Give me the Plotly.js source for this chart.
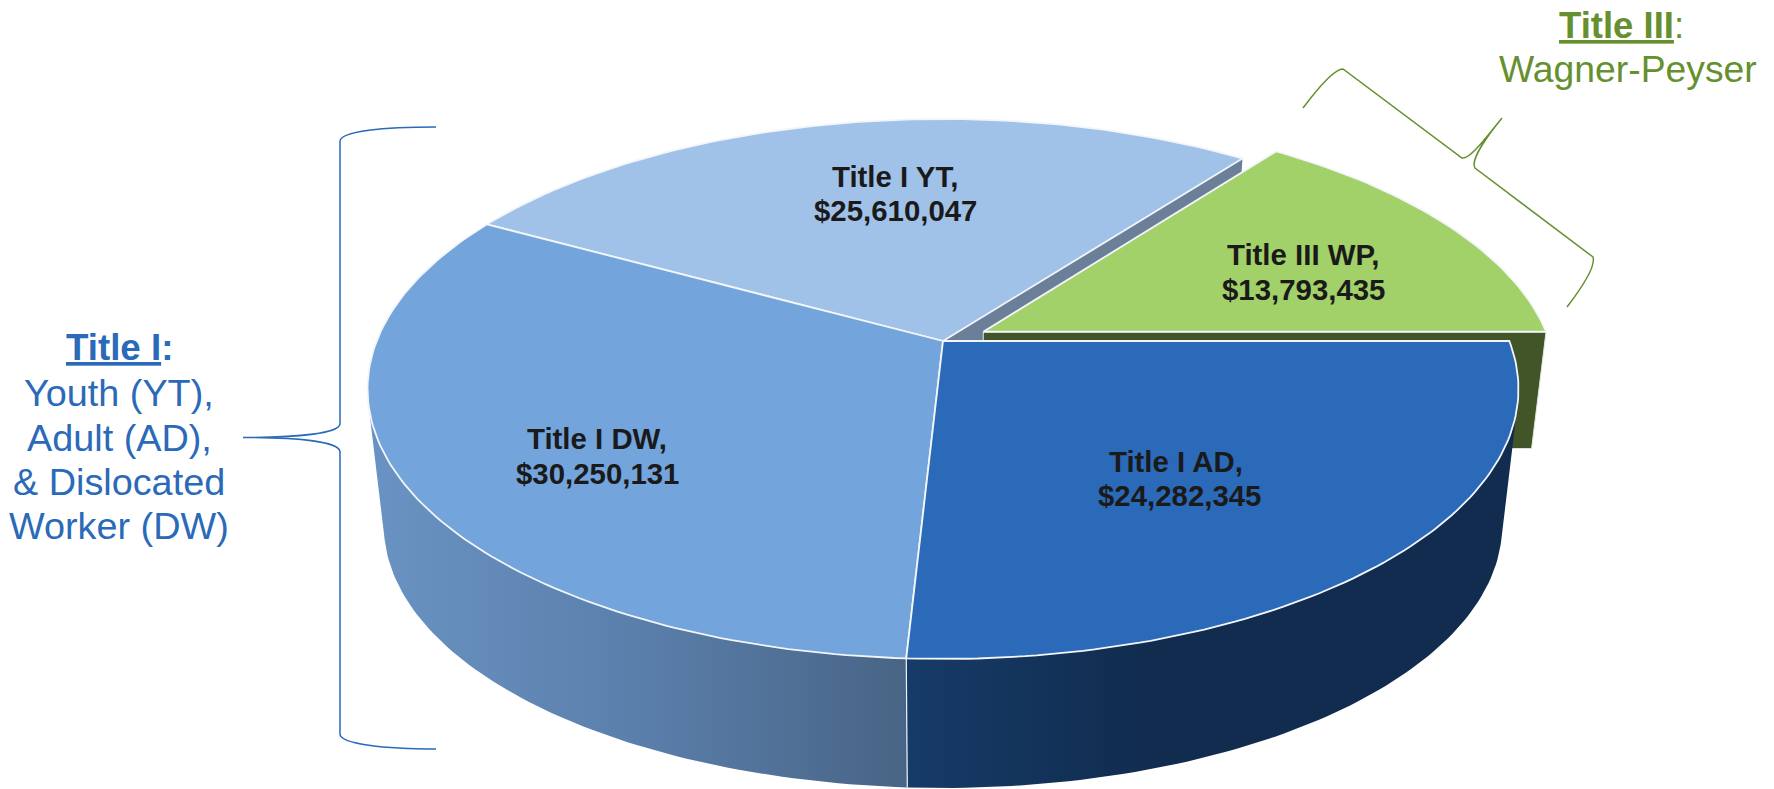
<!DOCTYPE html>
<html>
<head>
<meta charset="utf-8">
<script src="https://cdn.plot.ly/plotly-3.0.1.min.js"></script>
<style>html,body{margin:0;padding:0;background:#fff;overflow:hidden}#chart{width:1774px;height:789px}</style>
</head>
<body>
<div id="chart"></div>
<script>
// ---- data ----
const categories = ['Title I AD', 'Title I DW', 'Title I YT', 'Title III WP'];
const amounts = [24282345, 30250131, 25610047, 13793435];
const titleOneHeading = 'Title I';
const titleOneLines = ['Youth (YT),', 'Adult (AD),', '&amp; Dislocated', 'Worker (DW)'];
const titleThreeHeading = 'Title III';
const titleThreeLine = 'Wagner-Peyser';

// ---- colours ----
const topColors = ['#2A6AB8', '#73A4DC', '#A1C2E8', '#A2D069'];
const blue = '#2A6AB8', green = '#66902F', ink = '#1A1A1A';
const FONT = '"Liberation Sans", Arial, sans-serif';

// ---- pie projection: a unit disc seen in perspective, in pixel-valued axes ----
const CX = 943, CY = 341, A = 566.3, P = 200.8, K = 0.1778;
const VX = 943, VY = 5200, WALL = 0.9716, WEDGE_WALL = 0.976;
const EXPLODE = 0.08;
const project = (u, v) => { const d = 1 - K * v; return [CX + A * u / d, (CY + P * v) / d]; };
const drop = (p, s) => [VX + s * (p[0] - VX), VY + s * (p[1] - VY)];
const rad = d => d * Math.PI / 180;

const total = amounts.reduce((a, b) => a + b, 0);
const angles = [0];
amounts.forEach(v => angles.push(angles[angles.length - 1] + v / total * 360));

function rim(d, off) { return project(Math.cos(rad(d)) + off[0], Math.sin(rad(d)) + off[1]); }
function arc(a, b, off) {
  const n = Math.max(2, Math.ceil(Math.abs(b - a)));
  const out = [];
  for (let i = 0; i <= n; i++) out.push(rim(a + (b - a) * i / n, off));
  return out;
}
function tangent(a, b) {
  let best = a, bestV = -1;
  for (let d = Math.min(a, b); d <= Math.max(a, b); d += 0.25) {
    const p = rim(d, [0, 0]);
    const q = Math.abs(p[0] - VX) / (VY - p[1]);
    if (q > bestV) { bestV = q; best = d; }
  }
  return best;
}
function poly(pts, name, extra) {
  const xs = pts.map(p => p[0]).concat([pts[0][0]]);
  const ys = pts.map(p => p[1]).concat([pts[0][1]]);
  return Object.assign({
    type: 'scatter', mode: 'lines', x: xs, y: ys, fill: 'toself', name: name,
    hoverinfo: 'skip', showlegend: false
  }, extra);
}
const edge = {color: '#F2F5F9', width: 1.8};
const noEdge = {color: 'rgba(0,0,0,0)', width: 0};
const centre = [0, 0];

function face(i, off) {
  const a = arc(angles[i], angles[i + 1], off);
  return poly([project(off[0], off[1])].concat(a), categories[i],
    {fillcolor: topColors[i], line: edge});
}
function gradient(pts, stops) {
  const xs = pts.map(p => p[0]);
  return {
    line: noEdge,
    fillgradient: {type: 'horizontal', colorscale: stops,
      start: Math.min.apply(null, xs), stop: Math.max.apply(null, xs)}
  };
}

// walls
const seam = angles[1];
const dwTan = tangent(seam, angles[2]);
const adTan = tangent(angles[0], seam);
const dwTop = arc(seam, dwTan, centre);
const dwWall = dwTop.concat(dwTop.slice().reverse().map(p => drop(p, WALL)));
const adTop = arc(adTan, seam, centre);
const adWall = adTop.concat(adTop.slice().reverse().map(p => drop(p, WALL)));

// exploded wedge
const midWp = rad((angles[3] + angles[4]) / 2);
const wpOff = [EXPLODE * Math.cos(midWp), EXPLODE * Math.sin(midWp)];
const wpApex = project(wpOff[0], wpOff[1]);
const wpEnd = rim(angles[4], wpOff);
const wpWall = [wpApex, wpEnd, drop(wpEnd, WEDGE_WALL), drop(wpApex, WEDGE_WALL)];

// cut face of the YT slice, seen through the gap
const ytEnd = rim(angles[3], centre);
const ctr = project(0, 0);
const ytCut = [ctr, ytEnd, drop(ytEnd, WALL), drop(ctr, WALL)];

const seamTop = rim(seam, centre);
const data = [
  poly(ytCut, 'Title I YT cut face', {fillcolor: '#6B7F99', line: noEdge}),
  poly(wpWall, 'Title III WP cut face', {fillcolor: '#415529', line: {color: '#E4E8DF', width: 1}}),
  face(3, wpOff),
  poly(dwWall, 'Title I DW side', gradient(dwWall, [[0, '#6A93C3'], [0.5, '#5A7FAB'], [1, '#486485']])),
  poly(adWall, 'Title I AD side', gradient(adWall, [[0, '#163B68'], [0.4, '#112C4E'], [1, '#112C4E']])),
  face(2, centre),
  face(1, centre),
  face(0, centre),
  {type: 'scatter', mode: 'lines', name: 'seam', x: [seamTop[0], drop(seamTop, WALL)[0]],
   y: [seamTop[1], drop(seamTop, WALL)[1]], line: {color: '#EEF3F8', width: 1.2},
   hoverinfo: 'skip', showlegend: false}
];

// ---- text ----
const money = v => '$' + v.toLocaleString('en-US');
const BASE = 0.34;
function label(text, x, baseline, size, color) {
  return {text: text, x: x, y: baseline - BASE * size, xref: 'x', yref: 'y', showarrow: false,
    xanchor: 'center', yanchor: 'middle', font: {family: FONT, size: size, color: color}};
}
const labelAt = [[1176, 471, 505, 1179], [597, 448, 483, 597], [895, 186, 220, 895], [1303, 264, 299, 1303]];
const annotations = [];
categories.forEach((c, i) => {
  const at = labelAt[i];
  annotations.push(label('<b>' + c + ',</b>', at[0], at[1], 29.4, ink));
  annotations.push(label('<b>' + money(amounts[i]) + '</b>', at[3], at[2], 29.4, ink));
});
annotations.push(label('<b><u>' + titleOneHeading + '</u>:</b>', 119, 360, 36.7, blue));
titleOneLines.forEach((t, i) => annotations.push(label(t, 119, [406, 451, 495, 539][i], 37.8, blue)));
annotations.push(label('<b><u>' + titleThreeHeading + '</u></b>:', 1621, 38, 36.5, green));
annotations.push(label(titleThreeLine, 1628, 82, 37.3, green));

// ---- braces ----
const shapes = [
  {type: 'path', xref: 'x', yref: 'y', line: {color: blue, width: 1.5},
   path: 'M436,127 C385,127 340,131 340,141.5 L340,423.5 C340,433 300,437.5 243,437.5 C300,437.5 340,442 340,452 L340,734 C340,744 385,749 436,749'},
  {type: 'path', xref: 'x', yref: 'y', line: {color: green, width: 1.5},
   path: 'M1303,108 C1318,88 1335,69 1343,69 L1462,158 C1470,160 1488,135 1502,118 C1488,135 1470,160 1475,168 L1593,257 C1596,266 1580,290 1567,307'}
];

Plotly.newPlot('chart', data, {
  width: 1774, height: 789, margin: {l: 0, r: 0, t: 0, b: 0, pad: 0},
  paper_bgcolor: '#fff', plot_bgcolor: '#fff', showlegend: false,
  xaxis: {range: [0, 1774], visible: false, fixedrange: true},
  yaxis: {range: [789, 0], visible: false, fixedrange: true},
  annotations: annotations, shapes: shapes
}, {displayModeBar: false, staticPlot: true});
</script>
</body>
</html>
